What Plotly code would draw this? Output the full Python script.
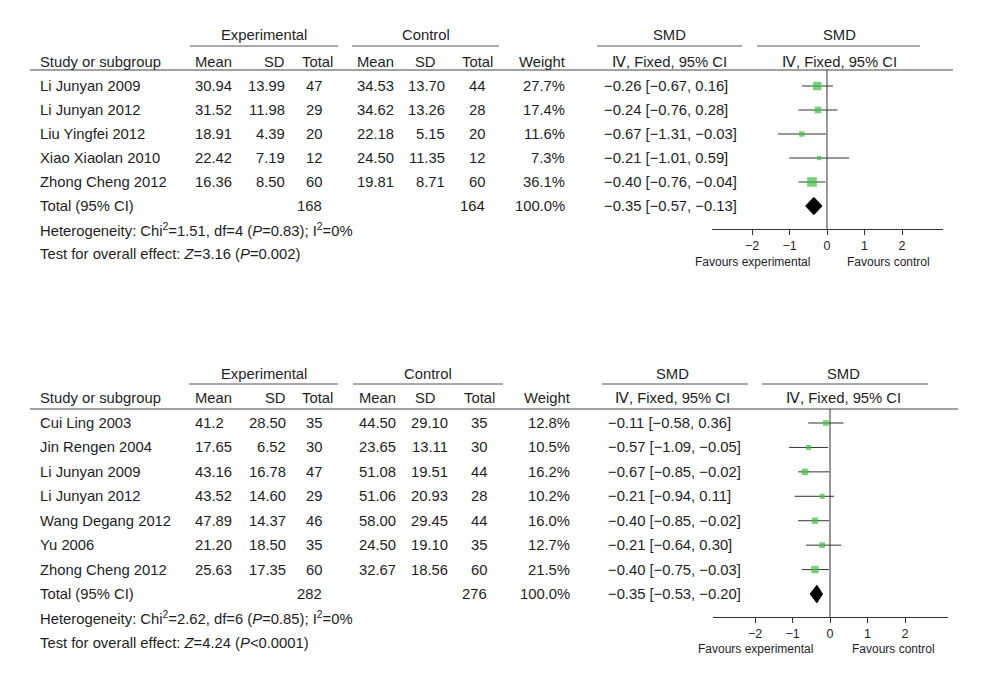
import math
import plotly.graph_objects as go

W, H = 992, 680

# ---------------- Panel A data ----------------
studies_a = ["Li Junyan 2009", "Li Junyan 2012", "Liu Yingfei 2012", "Xiao Xiaolan 2010", "Zhong Cheng 2012"]
exp_mean_a = ["30.94", "31.52", "18.91", "22.42", "16.36"]
exp_sd_a = ["13.99", "11.98", "4.39", "7.19", "8.50"]
exp_n_a = [47, 29, 20, 12, 60]
ctl_mean_a = ["34.53", "34.62", "22.18", "24.50", "19.81"]
ctl_sd_a = ["13.70", "13.26", "5.15", "11.35", "8.71"]
ctl_n_a = [44, 28, 20, 12, 60]
weight_a = [27.7, 17.4, 11.6, 7.3, 36.1]
smd_a = [-0.26, -0.24, -0.67, -0.21, -0.40]
lo_a = [-0.67, -0.76, -1.31, -1.01, -0.76]
hi_a = [0.16, 0.28, -0.03, 0.59, -0.04]
total_n_a = [168, 164]
total_smd_a = [-0.35, -0.57, -0.13]
het_a = "Heterogeneity: Chi<sup>2</sup>=1.51, df=4 (<i>P</i>=0.83); I<sup>2</sup>=0%"
test_a = "Test for overall effect: <i>Z</i>=3.16 (<i>P</i>=0.002)"

# ---------------- Panel B data ----------------
studies_b = ["Cui Ling 2003", "Jin Rengen 2004", "Li Junyan 2009", "Li Junyan 2012",
             "Wang Degang 2012", "Yu 2006", "Zhong Cheng 2012"]
exp_mean_b = ["41.2", "17.65", "43.16", "43.52", "47.89", "21.20", "25.63"]
exp_sd_b = ["28.50", "6.52", "16.78", "14.60", "14.37", "18.50", "17.35"]
exp_n_b = [35, 30, 47, 29, 46, 35, 60]
ctl_mean_b = ["44.50", "23.65", "51.08", "51.06", "58.00", "24.50", "32.67"]
ctl_sd_b = ["29.10", "13.11", "19.51", "20.93", "29.45", "19.10", "18.56"]
ctl_n_b = [35, 30, 44, 28, 44, 35, 60]
weight_b = [12.8, 10.5, 16.2, 10.2, 16.0, 12.7, 21.5]
smd_b = [-0.11, -0.57, -0.67, -0.21, -0.40, -0.21, -0.40]
lo_b = [-0.58, -1.09, -0.85, -0.94, -0.85, -0.64, -0.75]
hi_b = [0.36, -0.05, -0.02, 0.11, -0.02, 0.30, -0.03]
total_n_b = [282, 276]
total_smd_b = [-0.35, -0.53, -0.20]
het_b = "Heterogeneity: Chi<sup>2</sup>=2.62, df=6 (<i>P</i>=0.85); I<sup>2</sup>=0%"
test_b = "Test for overall effect: <i>Z</i>=4.24 (<i>P</i>&lt;0.0001)"

tick_vals = [-2, -1, 0, 1, 2]
tick_text = ["\u22122", "\u22121", "0", "1", "2"]

FONT = "Liberation Sans, Arial, Helvetica, sans-serif"
TXT = "#1e1e1e"
FS = 14.8
GREEN = "#3fbf3f"


def fmt(v):
    return f"{v:.2f}".replace("-", "\u2212")


def ci_text(e, l, h):
    return f"{fmt(e)} [{fmt(l)}, {fmt(h)}]"


# layout geometry per panel (pixels)
panels = [
    dict(
        studies=studies_a, em=exp_mean_a, esd=exp_sd_a, en=exp_n_a, cm=ctl_mean_a, csd=ctl_sd_a, cn=ctl_n_a,
        w=weight_a, smd=smd_a, lo=lo_a, hi=hi_a, tn=total_n_a, tsmd=total_smd_a, het=het_a, test=test_a,
        row0=86, dy=24.0, zero=827, ax0=712, ax1=943, axis_px=229, group_px=35, gline_px=46,
        head_px=62, sep_px=70, fav_px=262,
        col=dict(study=38, em=193, esd=287, en=324, en_h=335, cm=355, csd=447, csd_h=425, cn=487, cn_h=495,
                 wt=567, smd=602, smd_h=669, fp_h=839,
                 g_exp=(190, 338), g_ctl=(352, 499), g_smd=(597, 742), g_fp=(757, 920), sep=(30, 953),
                 fav_l=752, fav_r=888),
        xa="x", ya="y",
    ),
    dict(
        studies=studies_b, em=exp_mean_b, esd=exp_sd_b, en=exp_n_b, cm=ctl_mean_b, csd=ctl_sd_b, cn=ctl_n_b,
        w=weight_b, smd=smd_b, lo=lo_b, hi=hi_b, tn=total_n_b, tsmd=total_smd_b, het=het_b, test=test_b,
        row0=423, dy=24.43, zero=830, ax0=713, ax1=948, axis_px=617, group_px=374, gline_px=384,
        head_px=398, sep_px=409, fav_px=649,
        col=dict(study=38, em=193, esd=288, en=324, en_h=335, cm=357, csd=450, csd_h=425, cn=489, cn_h=497,
                 wt=572, smd=606, smd_h=672, fp_h=843,
                 g_exp=(189, 338), g_ctl=(353, 503), g_smd=(602, 748), g_fp=(762, 928), sep=(30, 958),
                 fav_l=755, fav_r=893),
        xa="x2", ya="y2",
    ),
]

fig = go.Figure()
annotations = []
shapes = []
layout_axes = {}
PPU = 37.5

for i, p in enumerate(panels):
    row0, dy = p["row0"], p["dy"]
    rowof = lambda px, row0=row0, dy=dy: (px - row0) / dy
    c = p["col"]
    xa, ya = p["xa"], p["ya"]
    n = len(p["studies"])
    axname = "xaxis" if i == 0 else "xaxis2"
    ayname = "yaxis" if i == 0 else "yaxis2"

    layout_axes[axname] = dict(
        domain=[p["ax0"] / W, p["ax1"] / W],
        range=[(p["ax0"] - p["zero"]) / PPU, (p["ax1"] - p["zero"]) / PPU],
        anchor="free", position=1 - p["axis_px"] / H,
        showline=True, linecolor="#333", linewidth=1,
        ticks="outside", ticklen=5, tickcolor="#333", tickwidth=1,
        tickvals=tick_vals, ticktext=tick_text,
        tickfont=dict(family=FONT, size=12.5, color=TXT),
        showgrid=False, zeroline=False, fixedrange=True,
    )
    layout_axes[ayname] = dict(
        domain=[0, 1], range=[rowof(H), rowof(0)], visible=False, showgrid=False,
        zeroline=False, anchor=xa, fixedrange=True,
    )

    rows = list(range(n))
    # study markers
    fig.add_trace(go.Scatter(
        x=p["smd"], y=rows, xaxis=xa, yaxis=ya, mode="markers",
        marker=dict(symbol="square", color=GREEN, size=[1.6 * math.sqrt(v) for v in p["w"]], line=dict(width=0)),
        error_x=dict(type="data", symmetric=False,
                     array=[h - e for h, e in zip(p["hi"], p["smd"])],
                     arrayminus=[e - l for e, l in zip(p["smd"], p["lo"])],
                     color="#333", thickness=1, width=0),
        showlegend=False, hoverinfo="skip",
    ))
    # diamond
    te, tl, th = p["tsmd"]
    hh = 0.36
    fig.add_trace(go.Scatter(
        x=[tl, te, th, te, tl], y=[n, n - hh, n, n + hh, n], xaxis=xa, yaxis=ya,
        mode="lines", fill="toself", fillcolor="black", line=dict(color="black", width=1),
        showlegend=False, hoverinfo="skip",
    ))

    # zero line
    shapes.append(dict(type="line", xref=xa, yref=ya, x0=0, x1=0,
                       y0=rowof(p["sep_px"]), y1=rowof(p["axis_px"]), line=dict(color="#333", width=1)))
    # group header lines
    for key in ["g_exp", "g_ctl", "g_smd", "g_fp"]:
        a, b = c[key]
        shapes.append(dict(type="line", xref="paper", yref=ya, x0=a / W, x1=b / W,
                           y0=rowof(p["gline_px"]), y1=rowof(p["gline_px"]), line=dict(color="#555", width=1)))
    a, b = c["sep"]
    shapes.append(dict(type="line", xref="paper", yref=ya, x0=a / W, x1=b / W,
                       y0=rowof(p["sep_px"]), y1=rowof(p["sep_px"]), line=dict(color="#444", width=1)))

    def ann(text, xpx, row, anchor, size=FS):
        annotations.append(dict(text=text, x=xpx / W, y=row, xref="paper", yref=ya, xanchor=anchor,
                                yanchor="middle", showarrow=False,
                                font=dict(family=FONT, size=size, color=TXT)))

    gr = rowof(p["group_px"])
    ann("Experimental", (c["g_exp"][0] + c["g_exp"][1]) / 2, gr, "center")
    ann("Control", (c["g_ctl"][0] + c["g_ctl"][1]) / 2, gr, "center")
    ann("SMD", c["smd_h"], gr, "center")
    ann("SMD", c["fp_h"], gr, "center")
    hr = rowof(p["head_px"])
    ann("Study or subgroup", c["study"], hr, "left")
    ann("Mean", c["em"], hr, "left")
    ann("SD", c["esd"], hr, "right")
    ann("Total", c["en_h"], hr, "right")
    ann("Mean", c["cm"], hr, "left")
    ann("SD", c["csd_h"], hr, "center")
    ann("Total", c["cn_h"], hr, "right")
    ann("Weight", c["wt"], hr, "right")
    ann("\u2163, Fixed, 95% CI", c["smd_h"], hr, "center")
    ann("\u2163, Fixed, 95% CI", c["fp_h"], hr, "center")

    for r in range(n):
        ann(p["studies"][r], c["study"], r, "left")
        ann(p["em"][r], c["em"], r, "left")
        ann(p["esd"][r], c["esd"], r, "right")
        ann(str(p["en"][r]), c["en"], r, "right")
        ann(p["cm"][r], c["cm"], r, "left")
        ann(p["csd"][r], c["csd"], r, "right")
        ann(str(p["cn"][r]), c["cn"], r, "right")
        ann(f"{p['w'][r]:.1f}%", c["wt"], r, "right")
        ann(ci_text(p["smd"][r], p["lo"][r], p["hi"][r]), c["smd"], r, "left")
    ann("Total (95% CI)", c["study"], n, "left")
    ann(str(p["tn"][0]), c["en"], n, "right")
    ann(str(p["tn"][1]), c["cn"], n, "right")
    ann("100.0%", c["wt"], n, "right")
    ann(ci_text(te, tl, th), c["smd"], n, "left")
    ann(p["het"], c["study"], n + 1, "left")
    ann(p["test"], c["study"], n + 2, "left")

    fr = rowof(p["fav_px"])
    annotations.append(dict(text="Favours experimental", x=(c["fav_l"] - p["zero"]) / PPU, y=fr,
                            xref=xa, yref=ya, xanchor="center", yanchor="middle", showarrow=False,
                            font=dict(family=FONT, size=12, color=TXT)))
    annotations.append(dict(text="Favours control", x=(c["fav_r"] - p["zero"]) / PPU, y=fr,
                            xref=xa, yref=ya, xanchor="center", yanchor="middle", showarrow=False,
                            font=dict(family=FONT, size=12, color=TXT)))

fig.update_layout(
    width=W, height=H, margin=dict(l=0, r=0, t=0, b=0),
    paper_bgcolor="white", plot_bgcolor="rgba(0,0,0,0)",
    showlegend=False, annotations=annotations, shapes=shapes,
    **layout_axes,
)

fig.write_html("out.html", config={"displayModeBar": False},
               post_script="document.body.style.margin='0';")
